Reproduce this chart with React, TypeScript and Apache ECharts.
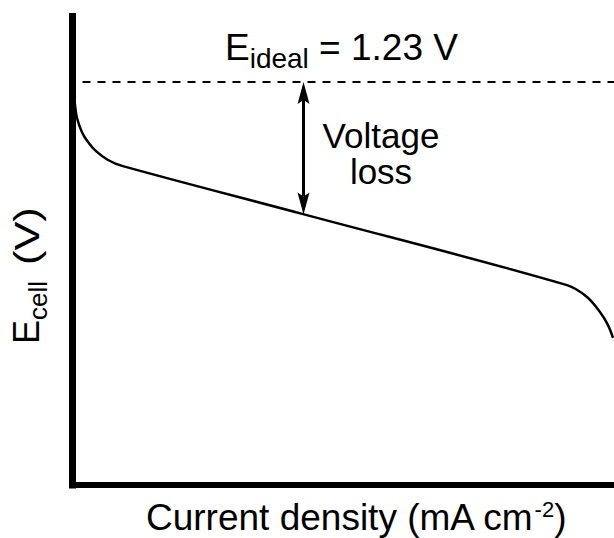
import React, { useEffect, useRef } from 'react';
import * as echarts from 'echarts';

// ---- data ----
const currentDensity = [0, 0.46, 0.83, 1.75, 2.86, 4.34, 6.56, 9.14, 42.75, 91.32, 95.01, 97.41, 98.89, 99.82];
const cellVoltage = [1.218, 1.16, 1.12, 1.077, 1.047, 1.019, 0.992, 0.974, 0.826, 0.61, 0.574, 0.528, 0.488, 0.449];
const idealVoltage = 1.23;
const lossArrowX = 42.66;
const lossArrowBottom = 0.826;
const xRange = [0, 100];
const yRange = [0, 1.43];

const FONT = '"Liberation Sans", Arial, Helvetica, sans-serif';

function measure(text: string, size: number): number {
  const c = document.createElement('canvas');
  const ctx = c.getContext('2d')!;
  ctx.font = `${size}px ${FONT}`;
  return ctx.measureText(text).width;
}

function txt(x: number, baseline: number, text: string, size: number, align: string = 'left', extra: any = {}) {
  return {
    type: 'text',
    x,
    y: baseline - 0.3465 * size,
    ...extra,
    style: {
      text,
      fontSize: size,
      fontFamily: FONT,
      fill: '#000',
      align,
      verticalAlign: 'middle',
      textAlign: align,
      textVerticalAlign: 'middle',
    },
  };
}

export default function App() {
  const ref = useRef<HTMLDivElement>(null);
  useEffect(() => {
    if (!ref.current) return;
    const chart = echarts.init(ref.current, null, { renderer: 'svg' });

    // E_ideal label
    const t0 = 225;
    const t1 = t0 + measure('E', 37);
    const t2 = t1 + measure('ideal', 28);
    // x label
    const xl0 = 146;
    const xl1 = xl0 + measure('Current density (mA cm', 37);
    const xl2 = xl1 + measure('-2', 22);
    // y label (rotated)
    const yl1 = measure('E', 36);
    const yl2 = yl1 + measure('cell', 26);

    const graphics: any[] = [
      txt(t0, 60, 'E', 37),
      txt(t1, 68, 'ideal', 28),
      txt(t2, 60, ` = ${idealVoltage.toFixed(2)} V`, 37),
      txt(381, 148, 'Voltage', 35, 'center'),
      txt(381, 184, 'loss', 35, 'center'),
      txt(xl0, 530, 'Current density (mA cm', 37),
      txt(xl1, 517, '-2', 22),
      txt(xl2, 530, ')', 37),
      {
        type: 'group',
        x: 39,
        y: 344,
        rotation: Math.PI / 2,
        children: [
          txt(0, 0, 'E', 36),
          txt(yl1, 8, 'cell', 26),
          txt(yl2 + 16, 0, '(V)', 36, 'left', { scaleX: 1.2 }),
        ],
      },
    ];

    chart.setOption({
      animation: false,
      grid: { left: 72.5, right: 0, top: 16.5, bottom: 53, containLabel: false },
      xAxis: {
        type: 'value',
        min: xRange[0],
        max: xRange[1],
        axisLine: { show: true, onZero: false, lineStyle: { color: '#000', width: 6, cap: 'square' } },
        axisTick: { show: false },
        axisLabel: { show: false },
        splitLine: { show: false },
      },
      yAxis: {
        type: 'value',
        min: yRange[0],
        max: yRange[1],
        axisLine: { show: true, onZero: false, lineStyle: { color: '#000', width: 7, cap: 'square' } },
        axisTick: { show: false },
        axisLabel: { show: false },
        splitLine: { show: false },
      },
      series: [
        {
          type: 'line',
          data: currentDensity.map((x, i) => [x, cellVoltage[i]]),
          showSymbol: false,
          smooth: 0.35,
          lineStyle: { color: '#000', width: 2.5 },
          z: 3,
          markLine: {
            silent: true,
            symbol: ['none', 'none'],
            label: { show: false },
            lineStyle: { color: '#000', width: 2, type: [8, 7], dashOffset: 5 },
            data: [{ yAxis: idealVoltage }],
          },
        },
        {
          type: 'custom',
          coordinateSystem: 'cartesian2d',
          data: [[lossArrowX, idealVoltage, lossArrowBottom]],
          encode: { x: 0, y: [1, 2] },
          clip: false,
          z: 4,
          renderItem: (params: any, api: any) => {
            const top = api.coord([api.value(0), api.value(1)]);
            const bot = api.coord([api.value(0), api.value(2)]);
            const hl = 22;
            const hw = 6;
            return {
              type: 'group',
              children: [
                {
                  type: 'line',
                  shape: { x1: top[0], y1: top[1] + hl - 4, x2: bot[0], y2: bot[1] - hl + 4 },
                  style: { stroke: '#000', lineWidth: 3 },
                },
                {
                  type: 'polygon',
                  shape: { points: [[top[0], top[1]], [top[0] - hw, top[1] + hl], [top[0], top[1] + hl - 4], [top[0] + hw, top[1] + hl]] },
                  style: { fill: '#000' },
                },
                {
                  type: 'polygon',
                  shape: { points: [[bot[0], bot[1]], [bot[0] - hw, bot[1] - hl], [bot[0], bot[1] - hl + 4], [bot[0] + hw, bot[1] - hl]] },
                  style: { fill: '#000' },
                },
              ],
            };
          },
        },
      ],
      graphic: graphics,
    });
    return () => chart.dispose();
  }, []);
  return (
    <div
      ref={ref}
      style={{ position: 'fixed', left: 0, top: 0, width: 614, height: 538, background: '#fff' }}
    />
  );
}
